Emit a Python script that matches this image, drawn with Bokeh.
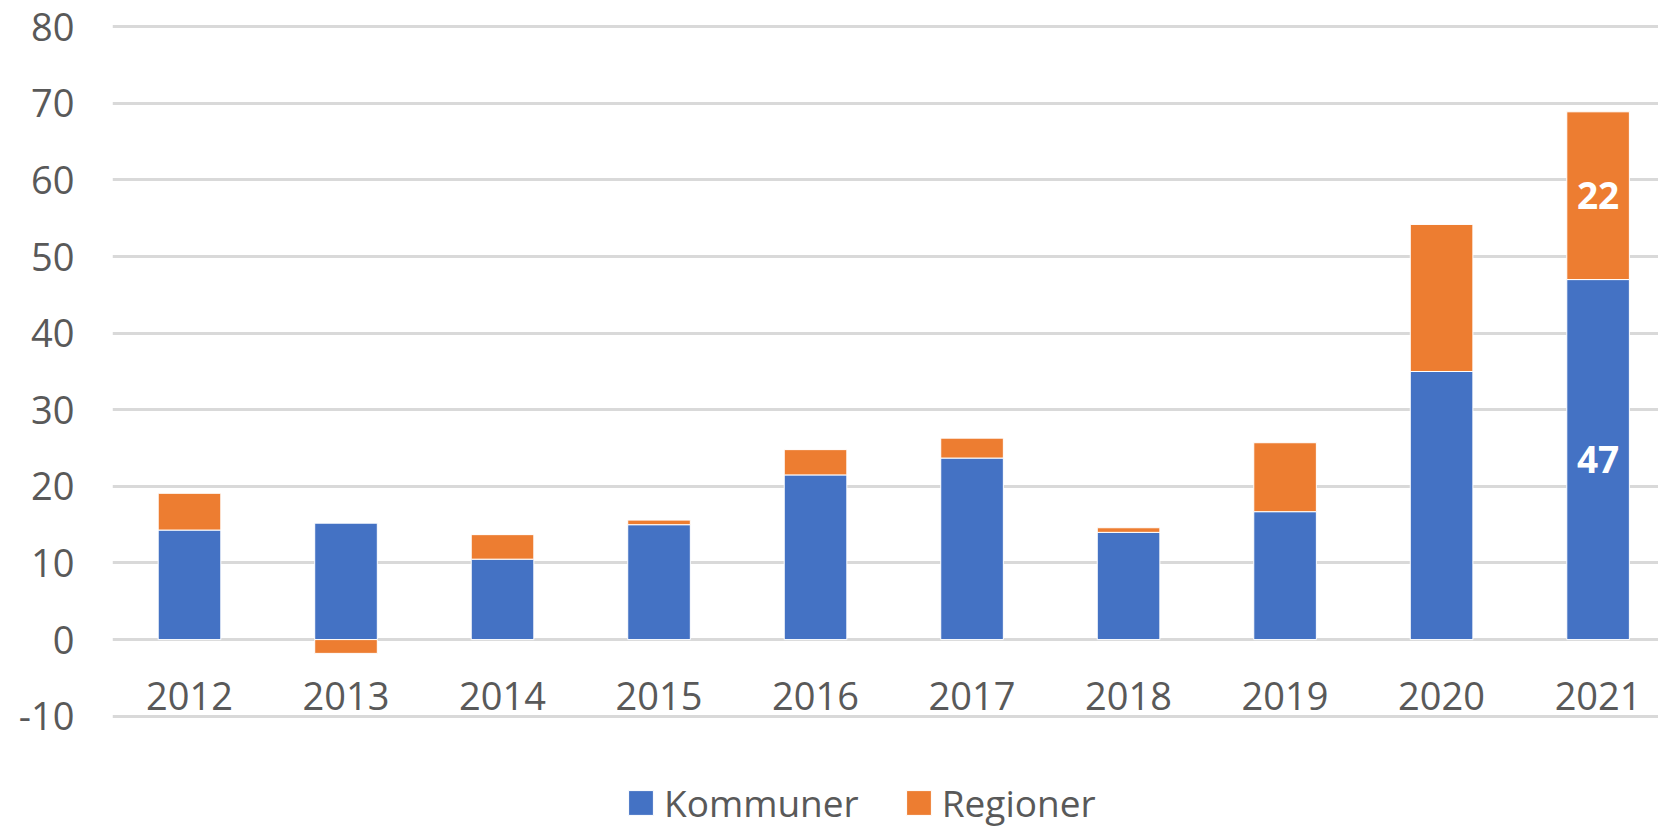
import numpy as np
from bokeh.plotting import figure
from bokeh.models import (Range1d, FixedTicker, ColumnDataSource,
                          Legend, LegendItem)
from bokeh.embed import file_html
from bokeh.resources import INLINE
from bokeh.core.properties import value

years = ["2012", "2013", "2014", "2015", "2016", "2017", "2018", "2019", "2020", "2021"]
kommuner = [14.3, 15.2, 10.5, 15.0, 21.5, 23.7, 14.0, 16.7, 35.0, 47.0]
regioner = [4.8, -1.8, 3.2, 0.6, 3.3, 2.6, 0.6, 9.0, 19.2, 21.9]
kommuner_labels = ["", "", "", "", "", "", "", "", "", "47"]
regioner_labels = ["", "", "", "", "", "", "", "", "", "22"]
y_ticks = [-10, 0, 10, 20, 30, 40, 50, 60, 70, 80]

BLUE = "#4472C4"
ORANGE = "#ED7D31"
GRAY_TEXT = "#595959"
FONT = "Open Sans"

x = np.arange(len(years))
k = np.array(kommuner)
r = np.array(regioner)
k_bottom = np.zeros_like(k)
k_top = k
r_bottom = np.where(r >= 0, k, 0.0)
r_top = np.where(r >= 0, k + r, r)

src = ColumnDataSource(dict(
    x=x, k_bottom=k_bottom, k_top=k_top, r_bottom=r_bottom, r_top=r_top,
    k_mid=(k_bottom + k_top) / 2, r_mid=(r_bottom + r_top) / 2,
    k_lab=kommuner_labels, r_lab=regioner_labels,
    base=np.zeros_like(k), year=years,
))

TOP = 24
H = 830
SCALE = 7.66
y_end = 80.3
y_start = y_end - (H - TOP) / SCALE

p = figure(width=1658, height=H, output_backend="svg", toolbar_location=None,
           x_range=Range1d(-0.492, 9.386), y_range=Range1d(y_start, y_end),
           x_axis_location=None, y_axis_location="left",
           min_border_left=112, min_border_right=0, min_border_top=TOP,
           min_border_bottom=0)
p.outline_line_color = None
p.background_fill_color = "white"
p.border_fill_color = "white"

# grid
p.xgrid.grid_line_color = None
p.ygrid.ticker = FixedTicker(ticks=y_ticks)
p.ygrid.grid_line_color = "#D9D9D9"
p.ygrid.grid_line_width = 3

# y axis
ya = p.yaxis[0]
ya.ticker = FixedTicker(ticks=y_ticks)
ya.major_label_overrides = {t: str(t) for t in y_ticks}
ya.axis_line_color = None
ya.major_tick_line_color = None
ya.minor_tick_line_color = None
ya.major_label_text_font = FONT
ya.major_label_text_font_size = "38px"
ya.major_label_text_color = GRAY_TEXT
ya.major_label_standoff = 32

rk = p.vbar(x="x", bottom="k_bottom", top="k_top", width=0.4, source=src,
            fill_color=BLUE, line_color="white", line_width=1)
rr = p.vbar(x="x", bottom="r_bottom", top="r_top", width=0.4, source=src,
            fill_color=ORANGE, line_color="white", line_width=1)

# category labels next to the horizontal axis (which crosses at 0)
p.text(x="x", y="base", text="year", source=src, text_color=GRAY_TEXT,
       text_font=value(FONT), text_font_size="38px", y_offset=56,
       text_align="center", text_baseline="middle")

# data labels
p.text(x="x", y="k_mid", text="k_lab", source=src, text_color="white",
       text_font=value(FONT), text_font_style="bold", text_font_size="37px",
       text_align="center", text_baseline="middle")
p.text(x="x", y="r_mid", text="r_lab", source=src, text_color="white",
       text_font=value(FONT), text_font_style="bold", text_font_size="37px",
       text_align="center", text_baseline="middle")

legend = Legend(items=[LegendItem(label="Kommuner", renderers=[rk]),
                       LegendItem(label="Regioner", renderers=[rr])],
                orientation="horizontal", location=(513, 2),
                glyph_width=31, glyph_height=31, label_standoff=8, spacing=44,
                padding=0, margin=0, border_line_color=None,
                background_fill_alpha=0,
                label_text_font=FONT, label_text_font_size="37px",
                label_text_color=GRAY_TEXT)
p.add_layout(legend, "center")

open("out.html", "w").write(file_html(p, INLINE))
